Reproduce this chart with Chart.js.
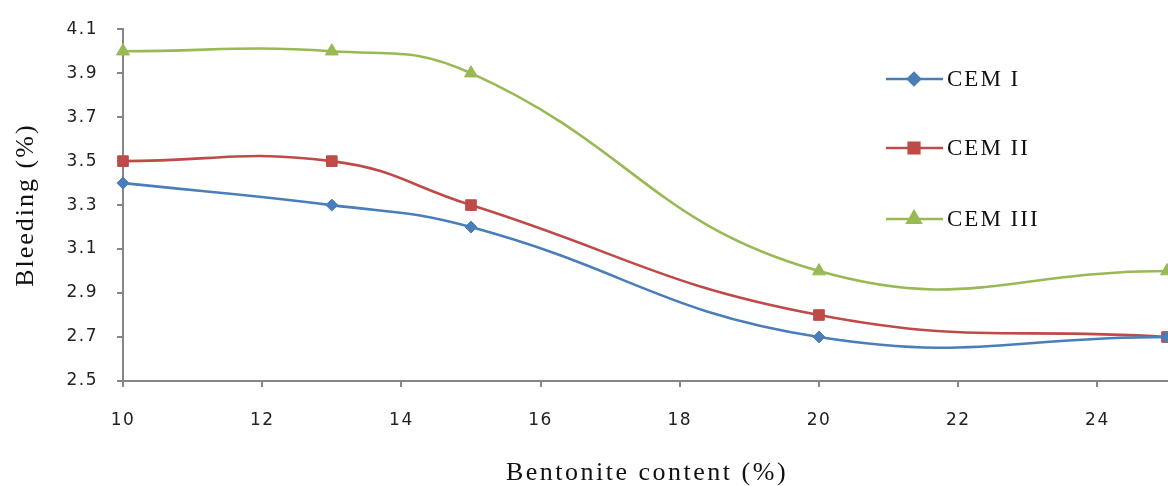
<!DOCTYPE html>
<html lang="en">
<head>
<meta charset="UTF-8">
<title>Bleeding vs bentonite content</title>
<script src="https://cdn.jsdelivr.net/npm/chart.js"></script>
<style>
html, body { margin: 0; padding: 0; background: #fff; }
#wrap { width: 1168px; height: 486px; position: relative; }
</style>
</head>
<body>
<div id="wrap"><canvas id="bleedChart"></canvas></div>

<script>
// values
const bentonite = [10, 13, 15, 20, 25];
const cemI   = [3.4, 3.3, 3.2, 2.7, 2.7];
const cemII  = [3.5, 3.5, 3.3, 2.8, 2.7];
const cemIII = [4.0, 4.0, 3.9, 3.0, 3.0];
const seriesNames = ['CEM I', 'CEM II', 'CEM III'];
const xTitle = 'Bentonite content (%)';
const yTitle = 'Bleeding (%)';

const pts = vals => bentonite.map((x, i) => ({ x: x, y: vals[i] }));
const axisGrey = '#868686';
const serif = "'Liberation Serif', 'Times New Roman', serif";

function series(label, vals, color, shape, r) {
  return {
    label: label,
    data: pts(vals),
    borderColor: color,
    backgroundColor: color,
    borderWidth: 2.6,
    pointStyle: shape,
    pointRadius: r,
    pointHoverRadius: r,
    pointBorderWidth: 1,
    tension: 0.45,
    clip: 8
  };
}

// tick labels in the original are slightly spaced out
const spacing = {
  id: 'spacing',
  beforeDraw(chart) { chart.ctx.letterSpacing = '1.5px'; },
  afterDatasetsDraw(chart) { chart.ctx.letterSpacing = '0px'; }
};

// axis titles + legend drawn with letter spacing like the original
const extras = {
  id: 'extras',
  afterDraw(chart) {
    const ctx = chart.ctx;
    const area = chart.chartArea;
    ctx.save();
    ctx.fillStyle = '#111';
    ctx.letterSpacing = '2.5px';
    ctx.font = '26px ' + serif;
    ctx.textAlign = 'center';
    ctx.textBaseline = 'middle';
    ctx.fillText(xTitle, 647, 473);
    ctx.letterSpacing = '2px';
    ctx.save();
    ctx.translate(26, (area.top + area.bottom) / 2);
    ctx.rotate(-Math.PI / 2);
    ctx.fillText(yTitle, 0, 0);
    ctx.restore();

    // legend
    const legY = [79, 148, 219];
    ctx.font = '23px ' + serif;
    ctx.textAlign = 'left';
    chart.data.datasets.forEach((ds, i) => {
      const y = legY[i];
      ctx.strokeStyle = ds.borderColor;
      ctx.lineWidth = ds.borderWidth;
      ctx.beginPath();
      ctx.moveTo(886, y);
      ctx.lineTo(943, y);
      ctx.stroke();
      ctx.fillStyle = ds.backgroundColor;
      Chart.helpers.drawPoint(ctx, { pointStyle: ds.pointStyle, radius: ds.pointRadius, borderWidth: 1 }, 914, y);
      ctx.fillStyle = '#111';
      ctx.fillText(ds.label, 947, y + 1);
    });
    ctx.restore();
  }
};

new Chart(document.getElementById('bleedChart'), {
  type: 'line',
  data: {
    datasets: [
      series(seriesNames[0], cemI,   '#4A7EBB', 'rectRot', 6),
      series(seriesNames[1], cemII,  '#BE4B48', 'rect', 7.5),
      series(seriesNames[2], cemIII, '#98B954', 'triangle', 7.5)
    ]
  },
  options: {
    responsive: true,
    maintainAspectRatio: false,
    animation: false,
    layout: { autoPadding: false, padding: { top: 24, right: 1, left: 0, bottom: 0 } },
    plugins: { legend: { display: false }, tooltip: { enabled: false } },
    scales: {
      x: {
        type: 'linear',
        min: 10,
        max: 25,
        afterFit: s => { s.height = 105; },
        border: { color: axisGrey, width: 2 },
        grid: { display: true, drawOnChartArea: false, color: axisGrey, tickLength: 6, lineWidth: 2 },
        ticks: { stepSize: 2, includeBounds: false, padding: 23, color: '#222', font: { family: 'DejaVu Sans', size: 17 } }
      },
      y: {
        min: 2.5,
        max: 4.1,
        afterFit: s => { s.width = 123; },
        border: { color: axisGrey, width: 2 },
        grid: { display: true, drawOnChartArea: false, color: axisGrey, tickLength: 6, lineWidth: 2 },
        ticks: {
          stepSize: 0.2,
          padding: 19,
          color: '#222',
          font: { family: 'DejaVu Sans', size: 17 },
          callback: v => v.toFixed(1)
        }
      }
    }
  },
  plugins: [spacing, extras]
});
</script>
</body>
</html>
